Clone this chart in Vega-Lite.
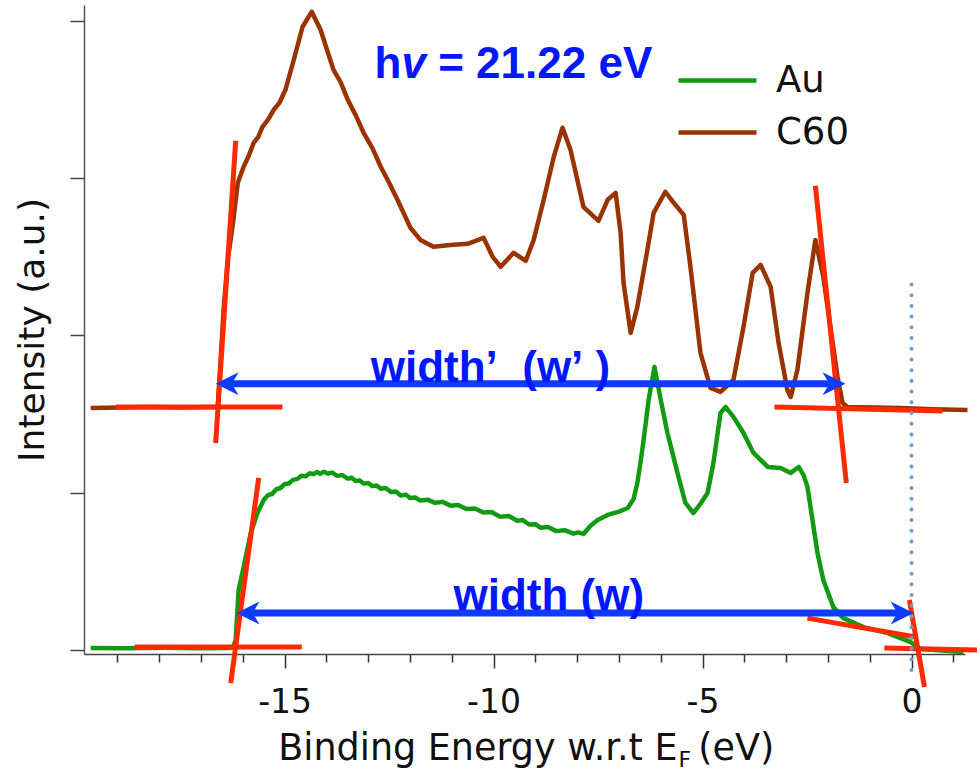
{
  "$schema": "https://vega.github.io/schema/vega-lite/v6.json",
  "width": 881,
  "height": 649,
  "autosize": {"type": "none"},
  "padding": {"left": 84, "top": 5, "right": 12, "bottom": 118},
  "background": "white",
  "config": {"view": {"stroke": null}, "font": "DejaVu Sans"},
  "datasets": {
    "spectra": [
      {"sample": "C60", "energy": -19.64, "intensity": 1.539},
      {"sample": "C60", "energy": -18.9, "intensity": 1.542},
      {"sample": "C60", "energy": -18.21, "intensity": 1.545},
      {"sample": "C60", "energy": -17.5, "intensity": 1.541},
      {"sample": "C60", "energy": -16.72, "intensity": 1.545},
      {"sample": "C60", "energy": -16.60, "intensity": 1.545},
      {"sample": "C60", "energy": -16.53, "intensity": 1.844},
      {"sample": "C60", "energy": -16.46, "intensity": 2.162},
      {"sample": "C60", "energy": -16.36, "intensity": 2.480},
      {"sample": "C60", "energy": -16.24, "intensity": 2.703},
      {"sample": "C60", "energy": -16.12, "intensity": 2.970},
      {"sample": "C60", "energy": -15.98, "intensity": 3.072},
      {"sample": "C60", "energy": -15.86, "intensity": 3.140},
      {"sample": "C60", "energy": -15.74, "intensity": 3.224},
      {"sample": "C60", "energy": -15.63, "intensity": 3.262},
      {"sample": "C60", "energy": -15.53, "intensity": 3.326},
      {"sample": "C60", "energy": -15.40, "intensity": 3.370},
      {"sample": "C60", "energy": -15.26, "intensity": 3.434},
      {"sample": "C60", "energy": -15.12, "intensity": 3.480},
      {"sample": "C60", "energy": -14.98, "intensity": 3.561},
      {"sample": "C60", "energy": -14.78, "intensity": 3.752},
      {"sample": "C60", "energy": -14.57, "intensity": 3.962},
      {"sample": "C60", "energy": -14.35, "intensity": 4.057},
      {"sample": "C60", "energy": -14.14, "intensity": 3.943},
      {"sample": "C60", "energy": -13.83, "intensity": 3.688},
      {"sample": "C60", "energy": -13.66, "intensity": 3.610},
      {"sample": "C60", "energy": -13.49, "intensity": 3.498},
      {"sample": "C60", "energy": -13.30, "intensity": 3.400},
      {"sample": "C60", "energy": -13.11, "intensity": 3.288},
      {"sample": "C60", "energy": -12.90, "intensity": 3.190},
      {"sample": "C60", "energy": -12.70, "intensity": 3.072},
      {"sample": "C60", "energy": -12.50, "intensity": 2.970},
      {"sample": "C60", "energy": -12.30, "intensity": 2.862},
      {"sample": "C60", "energy": -11.99, "intensity": 2.684},
      {"sample": "C60", "energy": -11.75, "intensity": 2.607},
      {"sample": "C60", "energy": -11.44, "intensity": 2.563},
      {"sample": "C60", "energy": -11.03, "intensity": 2.575},
      {"sample": "C60", "energy": -10.62, "intensity": 2.582},
      {"sample": "C60", "energy": -10.24, "intensity": 2.620},
      {"sample": "C60", "energy": -10.02, "intensity": 2.499},
      {"sample": "C60", "energy": -9.83, "intensity": 2.436},
      {"sample": "C60", "energy": -9.52, "intensity": 2.525},
      {"sample": "C60", "energy": -9.23, "intensity": 2.474},
      {"sample": "C60", "energy": -9.04, "intensity": 2.607},
      {"sample": "C60", "energy": -8.80, "intensity": 2.862},
      {"sample": "C60", "energy": -8.56, "intensity": 3.135},
      {"sample": "C60", "energy": -8.35, "intensity": 3.320},
      {"sample": "C60", "energy": -8.16, "intensity": 3.180},
      {"sample": "C60", "energy": -7.85, "intensity": 2.817},
      {"sample": "C60", "energy": -7.49, "intensity": 2.728},
      {"sample": "C60", "energy": -7.27, "intensity": 2.862},
      {"sample": "C60", "energy": -7.08, "intensity": 2.906},
      {"sample": "C60", "energy": -6.96, "intensity": 2.652},
      {"sample": "C60", "energy": -6.89, "intensity": 2.334},
      {"sample": "C60", "energy": -6.72, "intensity": 2.016},
      {"sample": "C60", "energy": -6.56, "intensity": 2.181},
      {"sample": "C60", "energy": -6.32, "intensity": 2.544},
      {"sample": "C60", "energy": -6.17, "intensity": 2.779},
      {"sample": "C60", "energy": -5.89, "intensity": 2.913},
      {"sample": "C60", "energy": -5.69, "intensity": 2.843},
      {"sample": "C60", "energy": -5.45, "intensity": 2.766},
      {"sample": "C60", "energy": -5.29, "intensity": 2.436},
      {"sample": "C60", "energy": -5.05, "intensity": 1.889},
      {"sample": "C60", "energy": -4.81, "intensity": 1.666},
      {"sample": "C60", "energy": -4.57, "intensity": 1.641},
      {"sample": "C60", "energy": -4.26, "intensity": 1.717},
      {"sample": "C60", "energy": -4.02, "intensity": 2.054},
      {"sample": "C60", "energy": -3.80, "intensity": 2.397},
      {"sample": "C60", "energy": -3.61, "intensity": 2.448},
      {"sample": "C60", "energy": -3.37, "intensity": 2.308},
      {"sample": "C60", "energy": -3.18, "intensity": 1.952},
      {"sample": "C60", "energy": -2.97, "intensity": 1.653},
      {"sample": "C60", "energy": -2.89, "intensity": 1.609},
      {"sample": "C60", "energy": -2.73, "intensity": 1.781},
      {"sample": "C60", "energy": -2.49, "intensity": 2.270},
      {"sample": "C60", "energy": -2.30, "intensity": 2.607},
      {"sample": "C60", "energy": -2.11, "intensity": 2.372},
      {"sample": "C60", "energy": -1.94, "intensity": 2.054},
      {"sample": "C60", "energy": -1.77, "intensity": 1.736},
      {"sample": "C60", "energy": -1.65, "intensity": 1.571},
      {"sample": "C60", "energy": -1.53, "intensity": 1.545},
      {"sample": "C60", "energy": -0.90, "intensity": 1.541},
      {"sample": "C60", "energy": -0.26, "intensity": 1.539},
      {"sample": "C60", "energy": 0.50, "intensity": 1.531},
      {"sample": "C60", "energy": 1.34, "intensity": 1.526},
      {"sample": "Au", "energy": -19.64, "intensity": 0.013},
      {"sample": "Au", "energy": -18.8, "intensity": 0.011},
      {"sample": "Au", "energy": -17.9, "intensity": 0.014},
      {"sample": "Au", "energy": -17.0, "intensity": 0.012},
      {"sample": "Au", "energy": -16.4, "intensity": 0.013},
      {"sample": "Au", "energy": -16.24, "intensity": 0.015},
      {"sample": "Au", "energy": -16.17, "intensity": 0.064},
      {"sample": "Au", "energy": -16.10, "intensity": 0.382},
      {"sample": "Au", "energy": -15.98, "intensity": 0.528},
      {"sample": "Au", "energy": -15.81, "intensity": 0.744},
      {"sample": "Au", "energy": -15.65, "intensity": 0.871},
      {"sample": "Au", "energy": -15.50, "intensity": 0.954},
      {"sample": "Au", "energy": -15.40, "intensity": 0.985},
      {"sample": "Au", "energy": -15.30, "intensity": 0.992},
      {"sample": "Au", "energy": -15.20, "intensity": 1.022},
      {"sample": "Au", "energy": -15.10, "intensity": 1.030},
      {"sample": "Au", "energy": -15.00, "intensity": 1.055},
      {"sample": "Au", "energy": -14.90, "intensity": 1.058},
      {"sample": "Au", "energy": -14.80, "intensity": 1.082},
      {"sample": "Au", "energy": -14.69, "intensity": 1.088},
      {"sample": "Au", "energy": -14.60, "intensity": 1.108},
      {"sample": "Au", "energy": -14.50, "intensity": 1.104},
      {"sample": "Au", "energy": -14.40, "intensity": 1.124},
      {"sample": "Au", "energy": -14.31, "intensity": 1.118},
      {"sample": "Au", "energy": -14.22, "intensity": 1.132},
      {"sample": "Au", "energy": -14.15, "intensity": 1.120},
      {"sample": "Au", "energy": -14.06, "intensity": 1.134},
      {"sample": "Au", "energy": -13.97, "intensity": 1.122},
      {"sample": "Au", "energy": -13.86, "intensity": 1.128},
      {"sample": "Au", "energy": -13.75, "intensity": 1.108},
      {"sample": "Au", "energy": -13.62, "intensity": 1.112},
      {"sample": "Au", "energy": -13.49, "intensity": 1.090},
      {"sample": "Au", "energy": -13.40, "intensity": 1.096},
      {"sample": "Au", "energy": -13.30, "intensity": 1.074},
      {"sample": "Au", "energy": -13.20, "intensity": 1.078},
      {"sample": "Au", "energy": -13.11, "intensity": 1.058},
      {"sample": "Au", "energy": -13.00, "intensity": 1.062},
      {"sample": "Au", "energy": -12.90, "intensity": 1.042},
      {"sample": "Au", "energy": -12.80, "intensity": 1.046},
      {"sample": "Au", "energy": -12.70, "intensity": 1.026},
      {"sample": "Au", "energy": -12.58, "intensity": 1.030},
      {"sample": "Au", "energy": -12.45, "intensity": 1.004},
      {"sample": "Au", "energy": -12.34, "intensity": 1.008},
      {"sample": "Au", "energy": -12.22, "intensity": 0.982},
      {"sample": "Au", "energy": -12.10, "intensity": 0.988},
      {"sample": "Au", "energy": -12.00, "intensity": 0.966},
      {"sample": "Au", "energy": -11.88, "intensity": 0.970},
      {"sample": "Au", "energy": -11.75, "intensity": 0.950},
      {"sample": "Au", "energy": -11.58, "intensity": 0.956},
      {"sample": "Au", "energy": -11.40, "intensity": 0.936},
      {"sample": "Au", "energy": -11.22, "intensity": 0.942},
      {"sample": "Au", "energy": -11.03, "intensity": 0.918},
      {"sample": "Au", "energy": -10.85, "intensity": 0.922},
      {"sample": "Au", "energy": -10.65, "intensity": 0.896},
      {"sample": "Au", "energy": -10.45, "intensity": 0.900},
      {"sample": "Au", "energy": -10.24, "intensity": 0.874},
      {"sample": "Au", "energy": -10.05, "intensity": 0.878},
      {"sample": "Au", "energy": -9.85, "intensity": 0.848},
      {"sample": "Au", "energy": -9.64, "intensity": 0.852},
      {"sample": "Au", "energy": -9.43, "intensity": 0.822},
      {"sample": "Au", "energy": -9.30, "intensity": 0.826},
      {"sample": "Au", "energy": -9.15, "intensity": 0.798},
      {"sample": "Au", "energy": -9.00, "intensity": 0.800},
      {"sample": "Au", "energy": -8.88, "intensity": 0.778},
      {"sample": "Au", "energy": -8.70, "intensity": 0.782},
      {"sample": "Au", "energy": -8.50, "intensity": 0.756},
      {"sample": "Au", "energy": -8.30, "intensity": 0.762},
      {"sample": "Au", "energy": -8.09, "intensity": 0.740},
      {"sample": "Au", "energy": -7.97, "intensity": 0.748},
      {"sample": "Au", "energy": -7.85, "intensity": 0.738},
      {"sample": "Au", "energy": -7.68, "intensity": 0.790},
      {"sample": "Au", "energy": -7.51, "intensity": 0.827},
      {"sample": "Au", "energy": -7.27, "intensity": 0.859},
      {"sample": "Au", "energy": -7.00, "intensity": 0.880},
      {"sample": "Au", "energy": -6.79, "intensity": 0.903},
      {"sample": "Au", "energy": -6.65, "intensity": 0.960},
      {"sample": "Au", "energy": -6.56, "intensity": 1.062},
      {"sample": "Au", "energy": -6.48, "intensity": 1.200},
      {"sample": "Au", "energy": -6.41, "intensity": 1.335},
      {"sample": "Au", "energy": -6.29, "intensity": 1.590},
      {"sample": "Au", "energy": -6.15, "intensity": 1.800},
      {"sample": "Au", "energy": -6.00, "intensity": 1.590},
      {"sample": "Au", "energy": -5.84, "intensity": 1.380},
      {"sample": "Au", "energy": -5.60, "intensity": 1.126},
      {"sample": "Au", "energy": -5.41, "intensity": 0.935},
      {"sample": "Au", "energy": -5.22, "intensity": 0.871},
      {"sample": "Au", "energy": -5.05, "intensity": 0.930},
      {"sample": "Au", "energy": -4.88, "intensity": 0.998},
      {"sample": "Au", "energy": -4.74, "intensity": 1.189},
      {"sample": "Au", "energy": -4.57, "intensity": 1.507},
      {"sample": "Au", "energy": -4.45, "intensity": 1.545},
      {"sample": "Au", "energy": -4.26, "intensity": 1.482},
      {"sample": "Au", "energy": -4.02, "intensity": 1.380},
      {"sample": "Au", "energy": -3.78, "intensity": 1.253},
      {"sample": "Au", "energy": -3.44, "intensity": 1.164},
      {"sample": "Au", "energy": -3.13, "intensity": 1.157},
      {"sample": "Au", "energy": -2.89, "intensity": 1.126},
      {"sample": "Au", "energy": -2.70, "intensity": 1.164},
      {"sample": "Au", "energy": -2.58, "intensity": 1.110},
      {"sample": "Au", "energy": -2.49, "intensity": 1.037},
      {"sample": "Au", "energy": -2.37, "intensity": 0.827},
      {"sample": "Au", "energy": -2.25, "intensity": 0.617},
      {"sample": "Au", "energy": -2.11, "intensity": 0.445},
      {"sample": "Au", "energy": -1.87, "intensity": 0.273},
      {"sample": "Au", "energy": -1.63, "intensity": 0.203},
      {"sample": "Au", "energy": -1.15, "intensity": 0.146},
      {"sample": "Au", "energy": -0.57, "intensity": 0.108},
      {"sample": "Au", "energy": -0.02, "intensity": 0.051},
      {"sample": "Au", "energy": 0.22, "intensity": 0.006},
      {"sample": "Au", "energy": 1.24, "intensity": -0.013}
    ],
    "tangents": [
      {"edge": "C60 cutoff base", "energy": -19.04, "intensity": 1.545, "energy2": -15.05, "intensity2": 1.545},
      {"edge": "C60 cutoff slope", "energy": -16.65, "intensity": 1.316, "energy2": -16.17, "intensity2": 3.237},
      {"edge": "Au cutoff base", "energy": -18.59, "intensity": 0.019, "energy2": -14.59, "intensity2": 0.019},
      {"edge": "Au cutoff slope", "energy": -16.29, "intensity": -0.210, "energy2": -15.62, "intensity2": 1.094},
      {"edge": "C60 onset base", "energy": -3.28, "intensity": 1.545, "energy2": 0.74, "intensity2": 1.520},
      {"edge": "C60 onset slope", "energy": -2.30, "intensity": 2.951, "energy2": -1.56, "intensity2": 1.062},
      {"edge": "Au Fermi slope", "energy": -2.49, "intensity": 0.203, "energy2": 0.10, "intensity2": 0.083},
      {"edge": "Au Fermi base", "energy": -0.65, "intensity": 0.013, "energy2": 1.58, "intensity2": 0.000},
      {"edge": "Au Fermi edge", "energy": -0.05, "intensity": 0.318, "energy2": 0.31, "intensity2": -0.235}
    ],
    "widths": [
      {"name": "w'", "start": -16.65, "end": -1.58, "level": 1.692},
      {"name": "w", "start": -16.15, "end": 0.05, "level": 0.235}
    ],
    "fermi": [
      {"energy": 0, "intensity": -0.127, "intensity2": 2.334}
    ],
    "blueText": [
      {"text": "h", "energy": -12.85, "intensity": 3.638},
      {"text": "= 21.22 eV", "energy": -11.325, "intensity": 3.638},
      {"text": "width’\u00a0\u00a0(w’\u00a0)", "energy": -12.94, "intensity": 1.704},
      {"text": "width (w)", "energy": -10.96, "intensity": 0.254}
    ],
    "blueItalic": [
      {"text": "v", "energy": -12.203, "intensity": 3.638}
    ],
    "xTitleMain": [
      {"text": "Binding Energy w.r.t E", "energy": -5.598, "intensity": -0.70}
    ],
    "xTitleSub": [
      {"text": "F", "energy": -5.574, "intensity": -0.744}
    ],
    "xTitleUnit": [
      {"text": "(eV)", "energy": -5.10, "intensity": -0.70}
    ]
  },
  "layer": [
    {
      "data": {"name": "spectra"},
      "mark": {"type": "line", "strokeWidth": 4.5, "strokeJoin": "round", "strokeCap": "butt"},
      "encoding": {
        "x": {
          "field": "energy",
          "type": "quantitative",
          "scale": {"domain": [-19.8, 1.28], "nice": false, "zero": false},
          "axis": {
            "title": null,
            "values": [-19, -18, -17, -16, -15, -14, -13, -12, -11, -10, -9, -8, -7, -6, -5, -4, -3, -2, -1, 0, 1],
            "labelExpr": "datum.value % 5 === 0 ? '' + datum.value : ''",
            "labelFont": "DejaVu Sans",
            "labelFontSize": 33,
            "labelColor": "#111111",
            "labelPadding": 18,
            "labelOverlap": false,
            "labelFlush": false,
            "tickSize": {"condition": {"test": "datum.value % 5 === 0", "value": 14}, "value": 8},
            "tickColor": "#333333",
            "tickWidth": 1.5,
            "domainColor": "#444444",
            "domainWidth": 1.5,
            "grid": false
          }
        },
        "y": {
          "field": "intensity",
          "type": "quantitative",
          "scale": {"domain": [-0.025, 4.1], "nice": false, "zero": false},
          "axis": {
            "title": "Intensity (a.u.)",
            "titleFont": "DejaVu Sans",
            "titleFontSize": 36,
            "titleFontWeight": "normal",
            "titleColor": "#111111",
            "titlePadding": 18,
            "values": [0, 1, 2, 3, 4],
            "labels": false,
            "tickSize": 14,
            "tickColor": "#444444",
            "tickWidth": 1.5,
            "domainColor": "#555555",
            "domainWidth": 1.5,
            "grid": false
          }
        },
        "color": {
          "field": "sample",
          "type": "nominal",
          "scale": {"domain": ["Au", "C60"], "range": ["#129a12", "#993300"]},
          "legend": {
            "title": null,
            "orient": "none",
            "legendX": 615,
            "legendY": 57,
            "padding": 0,
            "symbolType": "M-3,0H3",
            "symbolSize": 676,
            "symbolStrokeWidth": 4.5,
            "labelFont": "DejaVu Sans",
            "labelFontSize": 37,
            "labelColor": "#111111",
            "labelOffset": 40,
            "rowPadding": 14
          }
        }
      }
    },
    {
      "data": {"name": "tangents"},
      "mark": {"type": "rule", "color": "#ff2a00", "strokeWidth": 5},
      "encoding": {
        "x": {"field": "energy", "type": "quantitative"},
        "y": {"field": "intensity", "type": "quantitative"},
        "x2": {"field": "energy2"},
        "y2": {"field": "intensity2"}
      }
    },
    {
      "data": {"name": "widths"},
      "mark": {"type": "rule", "color": "#0d3bff", "strokeWidth": 7, "xOffset": 10, "x2Offset": -10},
      "encoding": {
        "x": {"field": "start", "type": "quantitative"},
        "x2": {"field": "end"},
        "y": {"field": "level", "type": "quantitative"}
      }
    },
    {
      "data": {"name": "widths"},
      "mark": {"type": "point", "shape": "M0,0L2,-1L1.4,0L2,1Z", "size": 529, "filled": true, "color": "#0d3bff", "opacity": 1},
      "encoding": {
        "x": {"field": "start", "type": "quantitative"},
        "y": {"field": "level", "type": "quantitative"}
      }
    },
    {
      "data": {"name": "widths"},
      "mark": {"type": "point", "shape": "M0,0L-2,-1L-1.4,0L-2,1Z", "size": 529, "filled": true, "color": "#0d3bff", "opacity": 1},
      "encoding": {
        "x": {"field": "end", "type": "quantitative"},
        "y": {"field": "level", "type": "quantitative"}
      }
    },
    {
      "data": {"name": "blueText"},
      "mark": {"type": "text", "font": "Liberation Sans", "fontSize": 44, "fontWeight": "bold", "color": "#0018ff", "align": "left", "baseline": "alphabetic"},
      "encoding": {
        "x": {"field": "energy", "type": "quantitative"},
        "y": {"field": "intensity", "type": "quantitative"},
        "text": {"field": "text"}
      }
    },
    {
      "data": {"name": "blueItalic"},
      "mark": {"type": "text", "font": "Liberation Sans", "fontSize": 44, "fontWeight": "bold", "fontStyle": "italic", "color": "#0018ff", "align": "left", "baseline": "alphabetic"},
      "encoding": {
        "x": {"field": "energy", "type": "quantitative"},
        "y": {"field": "intensity", "type": "quantitative"},
        "text": {"field": "text"}
      }
    },
    {
      "data": {"name": "xTitleMain"},
      "mark": {"type": "text", "font": "DejaVu Sans", "fontSize": 36.5, "color": "#111111", "align": "right", "baseline": "alphabetic"},
      "encoding": {
        "x": {"field": "energy", "type": "quantitative"},
        "y": {"field": "intensity", "type": "quantitative"},
        "text": {"field": "text"}
      }
    },
    {
      "data": {"name": "xTitleSub"},
      "mark": {"type": "text", "font": "DejaVu Sans", "fontSize": 22, "color": "#111111", "align": "left", "baseline": "alphabetic"},
      "encoding": {
        "x": {"field": "energy", "type": "quantitative"},
        "y": {"field": "intensity", "type": "quantitative"},
        "text": {"field": "text"}
      }
    },
    {
      "data": {"name": "xTitleUnit"},
      "mark": {"type": "text", "font": "DejaVu Sans", "fontSize": 36.5, "color": "#111111", "align": "left", "baseline": "alphabetic"},
      "encoding": {
        "x": {"field": "energy", "type": "quantitative"},
        "y": {"field": "intensity", "type": "quantitative"},
        "text": {"field": "text"}
      }
    },
    {
      "data": {"name": "fermi"},
      "mark": {"type": "rule", "color": "#6b9bd1", "strokeWidth": 4, "strokeDash": [0.01, 10.7], "strokeCap": "round"},
      "encoding": {
        "x": {"field": "energy", "type": "quantitative"},
        "y": {"field": "intensity", "type": "quantitative"},
        "y2": {"field": "intensity2"}
      }
    }
  ]
}
